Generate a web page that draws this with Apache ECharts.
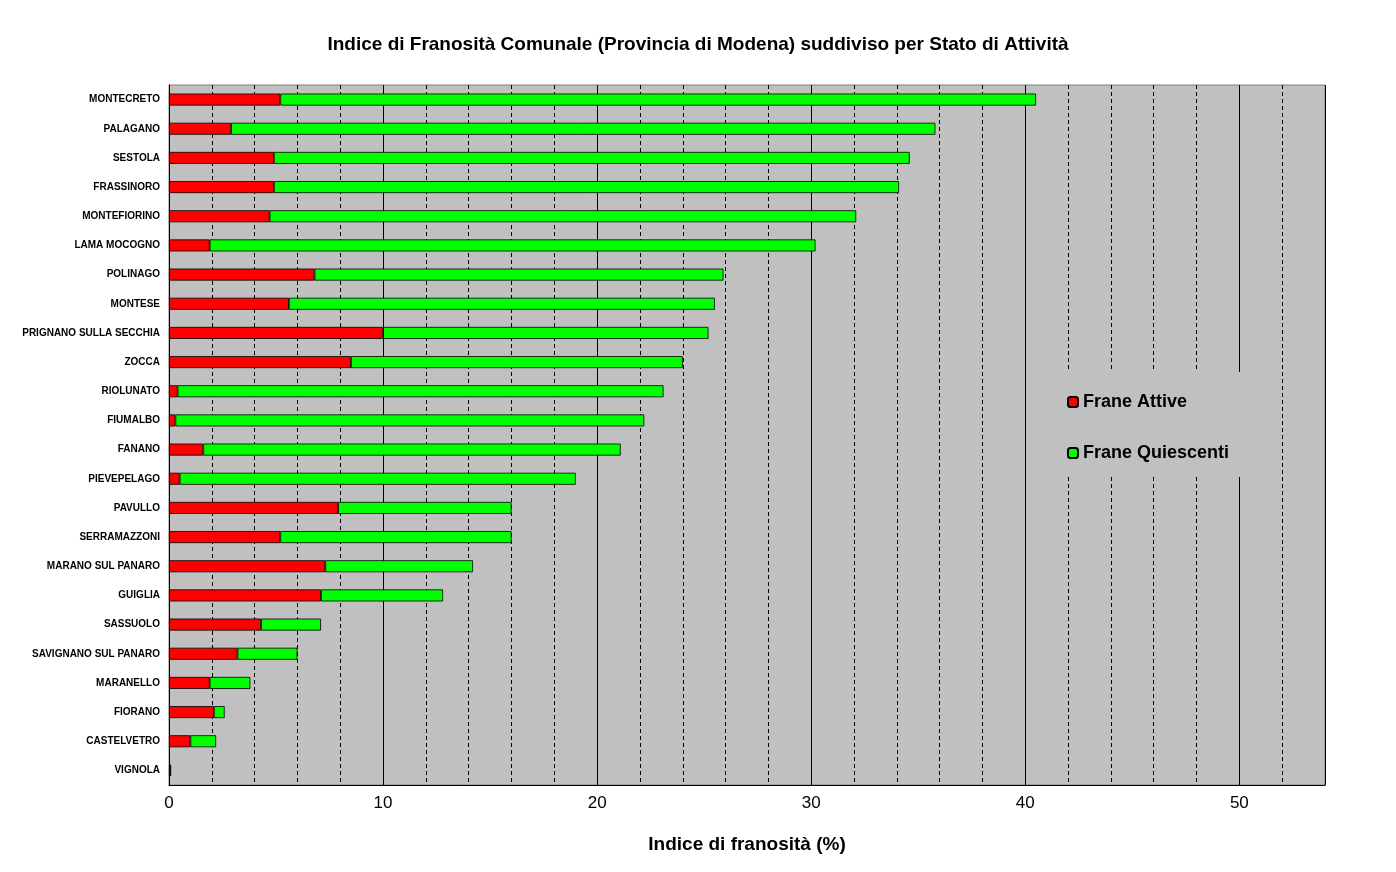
<!DOCTYPE html><html><head><meta charset="utf-8"><script src="https://cdn.jsdelivr.net/npm/echarts@6/dist/echarts.min.js"></script></head><body style="margin:0;background:#fff"><div id="c" style="width:1396px;height:872px"></div><script>
const categories=["MONTECRETO","PALAGANO","SESTOLA","FRASSINORO","MONTEFIORINO","LAMA MOCOGNO","POLINAGO","MONTESE","PRIGNANO SULLA SECCHIA","ZOCCA","RIOLUNATO","FIUMALBO","FANANO","PIEVEPELAGO","PAVULLO","SERRAMAZZONI","MARANO SUL PANARO","GUIGLIA","SASSUOLO","SAVIGNANO SUL PANARO","MARANELLO","FIORANO","CASTELVETRO","VIGNOLA"];
const attive=[5.2,2.9,4.9,4.9,4.7,1.9,6.8,5.6,10.0,8.5,0.4,0.3,1.6,0.5,7.9,5.2,7.3,7.1,4.3,3.2,1.9,2.1,1.0,0.05];
const totali=[40.5,35.8,34.6,34.1,32.1,30.2,25.9,25.5,25.2,24.0,23.1,22.2,21.1,19.0,16.0,16.0,14.2,12.8,7.1,6.0,3.8,2.6,2.2,0.1];
const quiescenti=totali.map((t,i)=>+(t-attive[i]).toFixed(2));
const ch=echarts.init(document.getElementById('c'));
const F='Arial, Liberation Sans, sans-serif';
ch.setOption({animation:false,
title:{text:'Indice di Franosità Comunale (Provincia di Modena) suddiviso per Stato di Attività',left:'center',top:30,textStyle:{fontFamily:F,fontSize:19,fontWeight:'bold',color:'#000'}},
grid:{left:169,right:71,top:85,bottom:87,show:true,backgroundColor:'#c0c0c0',borderColor:'#808080',borderWidth:1},
xAxis:[{type:'value',min:0,max:54,interval:2,name:'Indice di franosità (%)',nameLocation:'middle',nameGap:50,nameTextStyle:{fontFamily:F,fontSize:19,fontWeight:'bold',color:'#000'},
axisLine:{show:true,lineStyle:{color:'#000'}},axisTick:{show:false},
axisLabel:{fontFamily:F,fontSize:17,color:'#000',margin:10,formatter:v=>v%10===0?v:''},
splitLine:{show:true,lineStyle:{color:'#000',type:[4,3],width:1}}},
{type:'value',min:0,max:54,interval:10,position:'bottom',axisLine:{show:false},axisTick:{show:false},axisLabel:{show:false},splitLine:{show:true,lineStyle:{color:'#000',width:1}}}],
yAxis:{type:'category',data:categories,inverse:true,axisLine:{lineStyle:{color:'#000'}},axisTick:{show:false},axisLabel:{fontFamily:F,fontSize:10,fontWeight:'bold',color:'#000',margin:9}},
legend:{data:['Frane Attive','Frane Quiescenti'],orient:'vertical',left:1062,top:388,itemGap:33,itemWidth:10,itemHeight:10,z:20,textStyle:{fontFamily:F,fontSize:18,fontWeight:'bold',color:'#000'}},
graphic:[{type:'rect',shape:{x:1045,y:372,width:225,height:105},style:{fill:'#c0c0c0'},z:10}],
series:[{name:'Frane Attive',type:'bar',stack:'s',data:attive,barWidth:12,itemStyle:{color:'#ff0000',borderColor:'#000',borderWidth:0.8}},
{name:'Frane Quiescenti',type:'bar',stack:'s',data:quiescenti,barWidth:12,itemStyle:{color:'#00ff00',borderColor:'#000',borderWidth:0.8}}]});
</script></body></html>
